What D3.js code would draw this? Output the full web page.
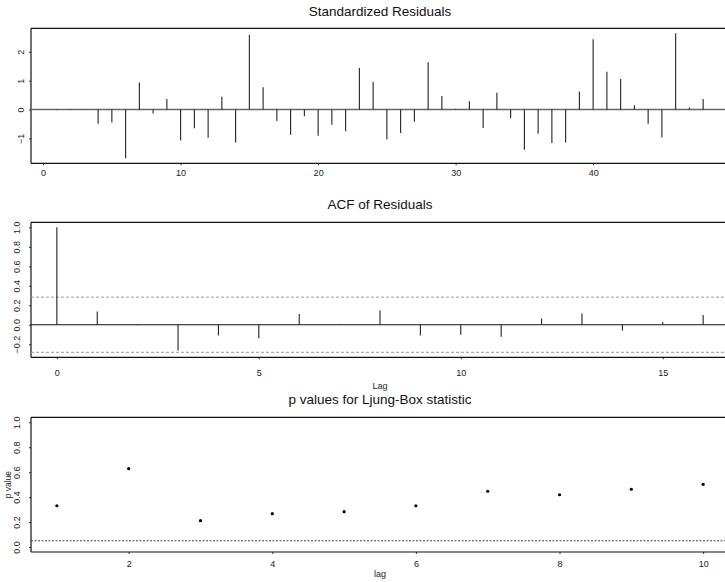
<!DOCTYPE html>
<html><head><meta charset="utf-8">
<script src="https://cdn.jsdelivr.net/npm/d3@7"></script>
<style>
body{margin:0;background:#fff;}
svg{display:block;font-family:"Liberation Sans",Arial,Helvetica,sans-serif;}
</style></head><body>
<svg id="c" width="725" height="582"></svg>
<script>
// Standardized residuals, time index 1..48
const residIndex = d3.range(1, 49);
const residValues = [0.02,-0.02,0.01,-0.49,-0.45,-1.69,0.94,-0.14,0.36,-1.07,
  -0.65,-0.98,0.44,-1.14,2.59,0.77,-0.40,-0.87,-0.23,-0.91,
  -0.53,-0.75,1.44,0.96,-1.04,-0.81,-0.42,1.64,0.47,0.03,
  0.29,-0.64,0.58,-0.30,-1.39,-0.84,-1.16,-1.14,0.62,2.43,
  1.31,1.06,0.15,-0.49,-0.97,2.64,0.07,0.36];
const residXTicks = [0,10,20,30,40];
const residYTicks = [-1,0,1,2];

// ACF of residuals
const acfLags = d3.range(0, 17);
const acfValues = [1.0,0.137,-0.005,-0.264,-0.11,-0.14,0.11,0.005,0.147,-0.11,
  -0.103,-0.123,0.065,0.116,-0.058,0.027,0.10];
const acfClim = 0.283;
const acfXTicks = [0,5,10,15];
const acfYTicks = [-0.2,0,0.2,0.4,0.6,0.8,1.0];

// Ljung-Box p values
const lbLags = d3.range(1, 11);
const lbPValues = [0.331,0.628,0.211,0.267,0.283,0.331,0.447,0.419,0.463,0.503];
const lbXTicks = [2,4,6,8,10];
const lbYTicks = [0,0.2,0.4,0.6,0.8,1.0];
const lbLevel = 0.05;

const svg = d3.select("#c");
const X0 = 31, X1 = 729;
function ext(lo, hi){ const d=(hi-lo)*0.04; return [lo-d, hi+d]; }

function frame(top, bottom, x, y, xt, yt, yFmt, yLabX, xLabY){
  const g = svg.append("g");
  const ax = g.append("g").attr("transform",`translate(0,${bottom})`)
    .call(d3.axisBottom(x).tickValues(xt).tickSize(2).tickPadding(0).tickFormat(d3.format("d")));
  ax.select(".domain").remove();
  ax.selectAll("line").attr("stroke","#333");
  ax.selectAll("text").attr("y", xLabY - bottom).attr("dy",0)
    .attr("font-size",9).attr("fill","#222").attr("font-family",null);
  const ay = g.append("g").attr("transform",`translate(${X0},0)`)
    .call(d3.axisLeft(y).tickValues(yt).tickSize(2).tickFormat(yFmt));
  ay.select(".domain").remove();
  ay.selectAll("line").attr("stroke","#333");
  ay.selectAll("text").attr("transform","rotate(-90)").attr("x",0)
    .attr("y", yLabX - X0).attr("dy",0).attr("text-anchor","middle")
    .attr("font-size",9).attr("fill","#222").attr("font-family",null);
  g.append("line").attr("x1",X0).attr("x2",X1+10).attr("y1",top).attr("y2",top).attr("stroke","#111").attr("stroke-width",1.2);
  g.append("line").attr("x1",X0).attr("x2",X1+10).attr("y1",bottom).attr("y2",bottom).attr("stroke","#111").attr("stroke-width",1.2);
  g.append("line").attr("x1",X0).attr("x2",X0).attr("y1",top).attr("y2",bottom).attr("stroke","#111").attr("stroke-width",1.2);
  return g;
}
function title(txt, yb){
  svg.append("text").attr("x",380).attr("y",yb).attr("text-anchor","middle")
    .attr("font-size",13.5).attr("fill","#111").text(txt);
}

// ---- Panel 1: standardized residuals
{
  const top=28.3, bottom=163.3;
  const x = d3.scaleLinear().domain(ext(1,48)).range([X0, X1]);
  const e = d3.extent(residValues);
  const y = d3.scaleLinear().domain(ext(e[0], e[1])).range([bottom, top]);
  const g = frame(top,bottom,x,y,residXTicks,residYTicks,d3.format("d"),24,176);
  g.append("line").attr("x1",X0).attr("x2",X1+10).attr("y1",y(0)).attr("y2",y(0))
    .attr("stroke","#666").attr("stroke-width",1.3);
  g.selectAll(".stem").data(residValues).join("line")
    .attr("x1",(d,i)=>x(residIndex[i])).attr("x2",(d,i)=>x(residIndex[i]))
    .attr("y1",y(0)).attr("y2",d=>y(d)).attr("stroke","#222").attr("stroke-width",1.1);
  title("Standardized Residuals", 15.5);
}

// ---- Panel 2: ACF
{
  const top=222.3, bottom=357.3;
  const x = d3.scaleLinear().domain(ext(0,16)).range([X0, X1]);
  const y = d3.scaleLinear().domain(ext(-acfClim, 1)).range([bottom, top]);
  const g = frame(top,bottom,x,y,acfXTicks,acfYTicks,d3.format(".1f"),19.5,376);
  [acfClim,-acfClim].forEach(c=>{
    g.append("line").attr("x1",X0).attr("x2",X1+10).attr("y1",y(c)).attr("y2",y(c))
      .attr("stroke","#999").attr("stroke-width",1).attr("stroke-dasharray","3,2");
  });
  g.append("line").attr("x1",X0).attr("x2",X1+10).attr("y1",y(0)).attr("y2",y(0))
    .attr("stroke","#111").attr("stroke-width",1.2);
  g.selectAll(".stem").data(acfValues).join("line")
    .attr("x1",(d,i)=>x(acfLags[i])).attr("x2",(d,i)=>x(acfLags[i]))
    .attr("y1",y(0)).attr("y2",d=>y(d)).attr("stroke","#222").attr("stroke-width",1.1);
  g.append("text").attr("x",380).attr("y",388.5).attr("text-anchor","middle")
    .attr("font-size",9).attr("fill","#222").text("Lag");
  title("ACF of Residuals", 209);
}

// ---- Panel 3: Ljung-Box p values
{
  const top=417.3, bottom=552;
  const x = d3.scaleLinear().domain(ext(1,10)).range([X0, X1]);
  const y = d3.scaleLinear().domain(ext(0,1)).range([bottom, top]);
  const g = frame(top,bottom,x,y,lbXTicks,lbYTicks,d3.format(".1f"),19.5,567);
  g.append("line").attr("x1",X0).attr("x2",X1+10).attr("y1",y(lbLevel)).attr("y2",y(lbLevel))
    .attr("stroke","#444").attr("stroke-width",1.1).attr("stroke-dasharray","2,1.5");
  g.selectAll(".pt").data(lbPValues).join("circle")
    .attr("cx",(d,i)=>x(lbLags[i])).attr("cy",d=>y(d)).attr("r",1.6).attr("fill","#000");
  g.append("text").attr("x",380).attr("y",577).attr("text-anchor","middle")
    .attr("font-size",9).attr("fill","#222").text("lag");
  g.append("text").attr("transform",`translate(11,${(top+bottom)/2}) rotate(-90)`)
    .attr("text-anchor","middle").attr("font-size",8.5).attr("fill","#222").text("p value");
  title("p values for Ljung-Box statistic", 404);
}
</script></body></html>
